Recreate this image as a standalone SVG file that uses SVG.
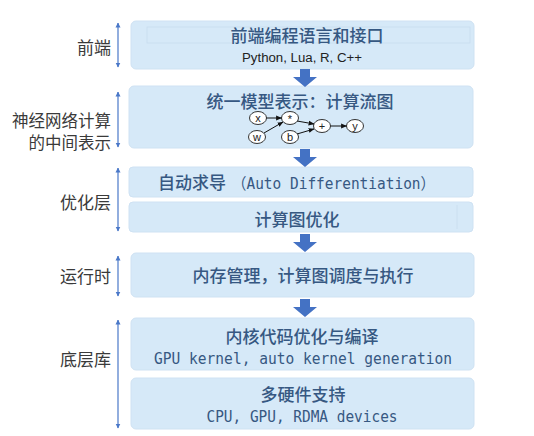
<svg xmlns="http://www.w3.org/2000/svg" width="534" height="436" viewBox="0 0 534 436">
<style>
.box{fill:#d6e9f8;stroke:#cfe2f3;stroke-width:1}
.t{font-family:"Noto Sans CJK SC","Liberation Sans",sans-serif;font-size:17px;fill:#365882;font-weight:500;text-anchor:middle}
.m{font-family:"DejaVu Sans Mono","Liberation Mono","Noto Sans CJK SC",monospace;font-size:15.5px;fill:#365882;text-anchor:middle}
.s{font-family:"Liberation Sans","Noto Sans CJK SC",sans-serif;font-size:12.5px;fill:#222;text-anchor:middle}
.l{font-family:"Noto Sans CJK SC",sans-serif;font-size:17px;fill:#3a3a3a;text-anchor:end}
.va{stroke:#4a78c8;stroke-width:1.2;fill:none;marker-start:url(#vh);marker-end:url(#vh)}
.blk{fill:#4472c4}
.gn{fill:#fff;stroke:#333;stroke-width:1}
.gt{font-family:"Liberation Sans",sans-serif;font-size:11px;fill:#222;text-anchor:middle}
.ge{stroke:#111;stroke-width:1;fill:none;marker-end:url(#ga)}
</style>
<defs>
<marker id="vh" viewBox="0 0 10 10" refX="9" refY="5" markerWidth="5" markerHeight="6" orient="auto-start-reverse" markerUnits="userSpaceOnUse">
<path d="M0,0 L10,5 L0,10 z" fill="#4a78c8"/>
</marker>
<marker id="ga" viewBox="0 0 10 10" refX="9" refY="5" markerWidth="6" markerHeight="6" orient="auto" markerUnits="userSpaceOnUse">
<path d="M0,1 L10,5 L0,9 z" fill="#111"/>
</marker>
<path id="bigarrow" d="M-5,0 L5,0 L5,8 L12,8 L0,18 L-12,8 L-5,8 z"/>
</defs>

<g id="n-frontend">
<rect class="box" x="131" y="21" width="343" height="48" rx="5"/>
<rect x="147" y="27" width="323" height="16" fill="none" stroke="#c9dcee" stroke-width="0.8"/>
<text class="t" x="307" y="42">前端编程语言和接口</text>
<text class="s" x="302" y="62" textLength="120" lengthAdjust="spacingAndGlyphs">Python, Lua, R, C++</text>
</g>

<g id="n-ir">
<rect class="box" x="129" y="86" width="344" height="62" rx="5"/>
<text class="t" x="300" y="108">统一模型表示：计算流图</text>
<g id="graph">
<ellipse class="gn" cx="258" cy="118" rx="8.5" ry="6.5"/>
<ellipse class="gn" cx="257" cy="137" rx="8.5" ry="6.5"/>
<ellipse class="gn" cx="290" cy="118" rx="8.5" ry="6.5"/>
<ellipse class="gn" cx="290" cy="137" rx="8.5" ry="6.5"/>
<ellipse class="gn" cx="322" cy="126" rx="8.5" ry="6.5"/>
<ellipse class="gn" cx="355" cy="126" rx="8.5" ry="6.5"/>
<text class="gt" x="258" y="122">x</text>
<text class="gt" x="257" y="141">w</text>
<text class="gt" x="290" y="123">*</text>
<text class="gt" x="290" y="141">b</text>
<text class="gt" x="322" y="130">+</text>
<text class="gt" x="355" y="130">y</text>
<line class="ge" x1="266.5" y1="118" x2="281.5" y2="118"/>
<line class="ge" x1="264" y1="133" x2="283" y2="122"/>
<line class="ge" x1="297" y1="121" x2="314" y2="124"/>
<line class="ge" x1="297" y1="134" x2="314" y2="129"/>
<line class="ge" x1="330.5" y1="126" x2="346.5" y2="126"/>
</g>
</g>

<g id="n-autodiff">
<rect class="box" x="129" y="167" width="344" height="30" rx="4"/>
<text class="t" x="158" y="189" style="text-anchor:start">自动求导</text>
<text class="m" x="232" y="189" style="text-anchor:start" textLength="203" lengthAdjust="spacingAndGlyphs">（Auto Differentiation）</text>
</g>

<g id="n-graphopt">
<rect class="box" x="129" y="202" width="344" height="30" rx="4"/>
<line x1="457" y1="205" x2="457" y2="229" stroke="#c9dcee" stroke-width="0.8"/>
<text class="t" x="297" y="226">计算图优化</text>
</g>

<g id="n-runtime">
<rect class="box" x="131" y="253" width="343" height="44" rx="5"/>
<text class="t" x="303" y="282">内存管理，计算图调度与执行</text>
</g>

<g id="n-kernel">
<rect class="box" x="131" y="318" width="343" height="52" rx="5"/>
<text class="t" x="302" y="343">内核代码优化与编译</text>
<text class="m" x="303" y="364" textLength="298" lengthAdjust="spacingAndGlyphs">GPU kernel, auto kernel generation</text>
</g>

<g id="n-hw">
<rect class="box" x="131" y="378" width="343" height="51" rx="5"/>
<text class="t" x="303" y="401">多硬件支持</text>
<text class="m" x="302" y="422" textLength="191" lengthAdjust="spacingAndGlyphs">CPU, GPU, RDMA devices</text>
</g>

<g id="labels">
<text class="l" x="111" y="54">前端</text>
<text class="l" x="111" y="127" style="font-size:16.5px">神经网络计算</text>
<text class="l" x="111" y="149" style="font-size:16.5px">的中间表示</text>
<text class="l" x="111" y="209">优化层</text>
<text class="l" x="111" y="283">运行时</text>
<text class="l" x="111" y="366">底层库</text>
</g>

<g id="connectors">
<use href="#bigarrow" class="blk" x="305" y="69"/>
<use href="#bigarrow" class="blk" x="305" y="149"/>
<use href="#bigarrow" class="blk" x="305" y="234"/>
<use href="#bigarrow" class="blk" x="305" y="299"/>
<line class="va" x1="118" y1="23" x2="118" y2="67"/>
<line class="va" x1="118" y1="92" x2="118" y2="147"/>
<line class="va" x1="118" y1="168" x2="118" y2="231"/>
<line class="va" x1="118" y1="256" x2="118" y2="296"/>
<line class="va" x1="118" y1="320" x2="118" y2="428"/>
</g>
</svg>
